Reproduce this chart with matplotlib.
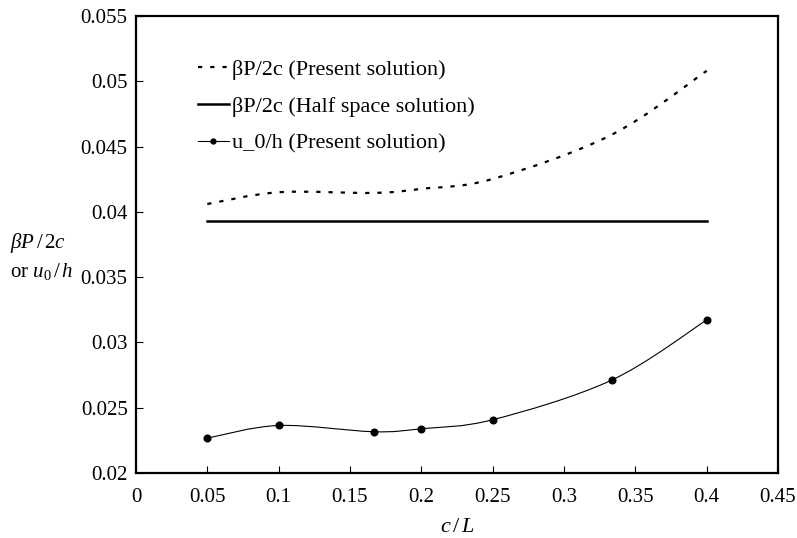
import numpy as np
import matplotlib
matplotlib.use('Agg')
import matplotlib.pyplot as plt
from matplotlib.path import Path
from matplotlib.patches import PathPatch
from matplotlib.lines import Line2D

# data
c_over_L = [0.05, 0.1, 1 / 6, 0.2, 0.25, 1 / 3, 0.4]
beta_present = [0.0406, 0.0415, 0.04145, 0.04176, 0.04252, 0.0459, 0.0508]
u0_present = [0.02267, 0.02364, 0.02316, 0.02339, 0.02408, 0.02711, 0.03172]
half_space_x = [0.05, 0.4]
half_space_y = [0.03927, 0.03927]

x_ticks = [0, 0.05, 0.1, 0.15, 0.2, 0.25, 0.3, 0.35, 0.4, 0.45]
x_tick_labels = ['0', '0.05', '0.1', '0.15', '0.2', '0.25', '0.3', '0.35', '0.4', '0.45']
y_ticks = [0.02, 0.025, 0.03, 0.035, 0.04, 0.045, 0.05, 0.055]
y_tick_labels = ['0.02', '0.025', '0.03', '0.035', '0.04', '0.045', '0.05', '0.055']

plt.rcParams['font.family'] = ['Liberation Serif', 'DejaVu Serif']
plt.rcParams['mathtext.fontset'] = 'custom'
plt.rcParams['mathtext.rm'] = 'Liberation Serif'
plt.rcParams['mathtext.it'] = 'Liberation Serif:italic'


def smooth_path(xs, ys):
    # excel style smoothed line: bezier segments through every point
    pts = np.column_stack([xs, ys])
    n = len(pts)
    verts = [pts[0]]
    codes = [Path.MOVETO]
    for i in range(n - 1):
        p0 = pts[i - 1] if i > 0 else pts[i]
        p1 = pts[i]
        p2 = pts[i + 1]
        p3 = pts[i + 2] if i + 2 < n else pts[i + 1]
        verts += [p1 + (p2 - p0) / 6, p2 - (p3 - p1) / 6, p2]
        codes += [Path.CURVE4] * 3
    return Path(verts, codes)


fig = plt.figure(figsize=(7.97, 5.38), dpi=100)
ax = fig.add_axes([0.1706, 0.1208, 0.8056, 0.8495])

dash = (0, (1.9, 3.6))
ax.add_patch(PathPatch(smooth_path(c_over_L, beta_present), fill=False,
                       color='black', lw=1.6, linestyle=dash))
ax.plot(half_space_x, half_space_y, color='black', lw=1.8)
ax.add_patch(PathPatch(smooth_path(c_over_L, u0_present), fill=False,
                       color='black', lw=0.8))
ax.plot(c_over_L, u0_present, ls='none', marker='o', ms=4.8, color='black')

handles = [
    Line2D([], [], color='black', lw=1.6, linestyle=dash),
    Line2D([], [], color='black', lw=1.8),
    Line2D([], [], color='black', lw=0.8, marker='o', ms=3.5),
]
labels = ['βP/2c (Present solution)', 'βP/2c (Half space solution)',
          'u_0/h (Present solution)']
ax.legend(handles, labels, loc='upper left', bbox_to_anchor=(0.082, 0.925),
          frameon=False, fontsize=16, handlelength=1.4, handletextpad=0.15,
          labelspacing=0.74, borderaxespad=0)

ax.set_xlim(0, 0.45)
ax.set_ylim(0.02, 0.055)
ax.set_xticks(x_ticks)
ax.set_xticklabels(x_tick_labels)
ax.set_yticks(y_ticks)
ax.set_yticklabels(y_tick_labels)
ax.tick_params(direction='in', length=5, width=0.8, labelsize=15)
ax.tick_params(axis='x', pad=11)
ax.tick_params(axis='y', pad=6)
for s in ax.spines.values():
    s.set_linewidth(1.6)

ax.set_xlabel(r'$c\,/\,L$', fontsize=16, labelpad=8)
fig.text(0.012, 0.548, r'$\beta P\,/\,2c$', fontsize=15, ha='left', va='center')
fig.text(0.012, 0.495, r'or $u_0\,/\,h$', fontsize=15, ha='left', va='center')

fig.savefig('out.png', dpi=100)
